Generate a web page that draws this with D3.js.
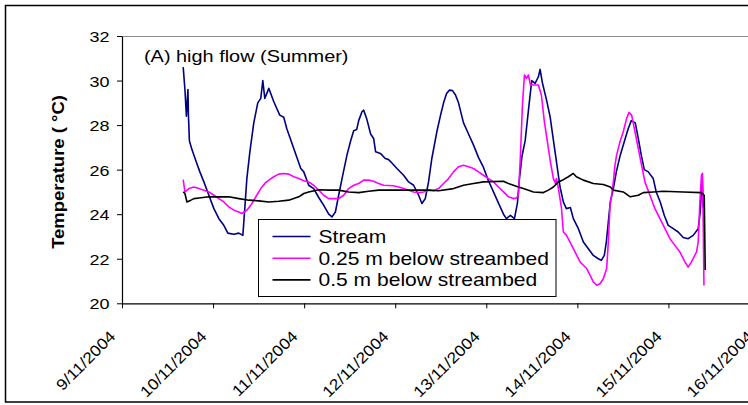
<!DOCTYPE html>
<html>
<head>
<meta charset="utf-8">
<script src="https://cdn.jsdelivr.net/npm/d3@7"></script>
<style>
  body { margin: 0; background: #fff; }
  text { font-family: "Liberation Sans", Arial, sans-serif; fill: #000; }
</style>
</head>
<body>
<div id="chart"></div>
<script>
var width = 748;
var height = 405;

// days after 9/11/2004 00:00, temperature (°C)
var stream = [[0.672,30.6],[0.691,29.6],[0.707,28.4],[0.724,29.6],[0.729,28.5],[0.740,27.3],[0.768,26.9],[0.811,26.4],[0.855,25.9],[0.899,25.45],[0.954,24.85],[1.009,24.25],[1.064,23.8],[1.118,23.5],[1.162,23.15],[1.228,23.1],[1.283,23.15],[1.327,23.05],[1.349,24.3],[1.371,25.6],[1.404,26.8],[1.447,28.1],[1.491,29.0],[1.524,29.2],[1.546,30.0],[1.568,29.2],[1.612,29.65],[1.667,29.05],[1.732,28.45],[1.776,28.35],[1.809,27.85],[1.886,26.95],[1.963,26.05],[1.996,25.9],[2.050,25.3],[2.105,25.15],[2.160,24.75],[2.215,24.4],[2.270,24.0],[2.306,23.88],[2.343,24.1],[2.379,24.85],[2.416,25.6],[2.470,26.65],[2.511,27.3],[2.544,27.75],[2.577,27.8],[2.599,28.2],[2.635,28.6],[2.654,28.67],[2.686,28.3],[2.730,27.6],[2.763,27.4],[2.785,26.8],[2.837,26.73],[2.891,26.5],[2.928,26.45],[2.964,26.3],[3.019,26.05],[3.092,25.75],[3.147,25.45],[3.202,25.3],[3.257,24.85],[3.293,24.48],[3.330,24.7],[3.366,25.45],[3.402,26.5],[3.457,27.7],[3.498,28.45],[3.531,29.0],[3.564,29.42],[3.596,29.57],[3.629,29.55],[3.662,29.35],[3.695,29.0],[3.750,28.1],[3.805,27.6],[3.860,27.1],[3.914,26.55],[3.969,26.1],[4.024,25.5],[4.079,25.0],[4.134,24.5],[4.189,24.0],[4.221,23.8],[4.265,23.95],[4.309,23.8],[4.342,24.5],[4.364,25.6],[4.392,26.6],[4.427,27.3],[4.463,28.67],[4.499,30.0],[4.536,29.87],[4.572,30.17],[4.591,30.5],[4.616,29.9],[4.663,29.1],[4.701,28.37],[4.737,27.33],[4.773,26.28],[4.810,25.22],[4.846,24.55],[4.879,24.25],[4.923,24.3],[4.956,23.8],[5.011,23.35],[5.066,22.75],[5.121,22.45],[5.175,22.15],[5.230,22.0],[5.263,21.93],[5.296,22.15],[5.318,22.75],[5.340,23.65],[5.362,24.55],[5.395,25.15],[5.428,25.9],[5.471,26.65],[5.515,27.25],[5.559,27.85],[5.592,28.2],[5.636,28.1],[5.669,27.4],[5.702,26.65],[5.735,26.0],[5.779,25.9],[5.833,25.6],[5.866,25.0],[5.910,24.55],[5.954,23.95],[5.998,23.5],[6.053,23.35],[6.107,23.2],[6.162,22.95],[6.217,22.9],[6.272,23.05],[6.327,23.35],[6.349,24.1],[6.371,25.6],[6.382,24.3]];

var depth025 = [[0.672,25.55],[0.691,25.0],[0.735,25.15],[0.789,25.22],[0.844,25.15],[0.899,25.08],[0.954,25.0],[1.009,24.85],[1.064,24.7],[1.118,24.55],[1.173,24.33],[1.228,24.18],[1.283,24.1],[1.316,24.03],[1.371,24.18],[1.414,24.4],[1.480,24.85],[1.524,25.15],[1.568,25.38],[1.612,25.53],[1.667,25.68],[1.721,25.8],[1.776,25.83],[1.831,25.8],[1.886,25.68],[1.941,25.6],[1.996,25.5],[2.050,25.45],[2.105,25.3],[2.160,25.08],[2.215,24.85],[2.270,24.7],[2.379,24.7],[2.434,24.85],[2.489,25.15],[2.544,25.3],[2.599,25.38],[2.654,25.53],[2.708,25.53],[2.763,25.48],[2.818,25.38],[2.873,25.3],[2.982,25.28],[3.037,25.22],[3.092,25.15],[3.147,25.08],[3.202,25.0],[3.257,24.97],[3.311,25.0],[3.366,25.08],[3.421,25.05],[3.476,25.15],[3.531,25.38],[3.586,25.6],[3.640,25.9],[3.695,26.13],[3.750,26.2],[3.805,26.13],[3.860,26.05],[3.914,25.9],[3.969,25.75],[4.024,25.6],[4.079,25.45],[4.134,25.22],[4.189,25.0],[4.243,24.78],[4.298,24.7],[4.331,24.73],[4.353,24.85],[4.375,26.65],[4.397,28.9],[4.419,30.25],[4.441,30.1],[4.463,30.25],[4.485,29.8],[4.572,29.8],[4.605,29.35],[4.638,28.15],[4.671,27.25],[4.704,26.35],[4.737,25.6],[4.759,25.38],[4.770,25.6],[4.792,25.15],[4.825,24.3],[4.846,23.2],[4.879,23.06],[4.920,22.75],[4.956,22.45],[4.993,22.15],[5.030,21.86],[5.066,21.71],[5.102,21.56],[5.139,21.26],[5.175,20.96],[5.212,20.81],[5.249,20.88],[5.285,21.1],[5.322,21.56],[5.340,22.75],[5.359,24.4],[5.376,24.85],[5.395,25.45],[5.413,26.2],[5.431,26.65],[5.468,27.25],[5.504,27.7],[5.541,28.3],[5.567,28.57],[5.596,28.45],[5.633,27.7],[5.669,26.95],[5.705,26.2],[5.742,25.45],[5.797,24.85],[5.852,24.25],[5.907,23.8],[5.962,23.35],[6.017,22.9],[6.071,22.6],[6.126,22.3],[6.181,21.86],[6.217,21.63],[6.253,21.86],[6.308,22.3],[6.327,22.75],[6.345,24.55],[6.363,25.75],[6.374,25.83],[6.382,23.65],[6.390,20.8]];

var depth05 = [[0.672,25.0],[0.691,24.93],[0.713,24.55],[0.757,24.63],[0.789,24.7],[0.844,24.73],[0.954,24.78],[1.173,24.78],[1.283,24.7],[1.393,24.63],[1.502,24.6],[1.612,24.55],[1.721,24.58],[1.831,24.63],[1.941,24.78],[1.996,24.93],[2.050,25.0],[2.160,25.1],[2.270,25.08],[2.379,25.08],[2.489,25.0],[2.599,24.97],[2.708,25.03],[2.818,25.08],[3.366,25.08],[3.476,25.05],[3.640,25.15],[3.750,25.3],[3.860,25.38],[3.969,25.45],[4.189,25.48],[4.243,25.38],[4.298,25.3],[4.353,25.22],[4.408,25.15],[4.463,25.08],[4.518,25.0],[4.627,24.97],[4.682,25.08],[4.737,25.22],[4.792,25.45],[4.846,25.55],[4.901,25.68],[4.956,25.83],[4.989,25.68],[5.066,25.53],[5.175,25.38],[5.285,25.33],[5.362,25.22],[5.395,25.08],[5.504,25.0],[5.581,24.78],[5.669,24.85],[5.724,24.97],[5.833,25.0],[5.943,25.03],[6.162,25.0],[6.360,24.97],[6.393,24.85],[6.404,21.5]];

var seriesNames = ["Stream", "0.25 m below streambed", "0.5 m below streambed"];
var seriesColors = ["#000080", "#ff00ff", "#000000"];
var yTicks = [20, 22, 24, 26, 28, 30, 32];
var titleText = "(A) high flow (Summer)";
var yLabel = "Temperature ( \u00b0C)";

var start = new Date(2004, 10, 9);
function toDate(d) { return new Date(start.getTime() + d * 864e5); }

// glyphs in the picture are wider than Liberation Sans
var stretch = 1.17;

var plot = { left: 122, top: 36, right: 759.5, bottom: 303.3 };

var svg = d3.select('#chart').append('svg')
    .attr('width', width)
    .attr('height', height);

var x = d3.scaleTime()
    .domain([start, new Date(2004, 10, 16)])
    .range([plot.left, plot.right]);
var y = d3.scaleLinear()
    .domain([20, 32])
    .range([plot.bottom, plot.top]);

// outer frame
svg.append('rect')
    .attr('x', 5.5).attr('y', 5.5)
    .attr('width', 800).attr('height', 396.5)
    .attr('fill', 'none')
    .attr('stroke', '#000')
    .attr('stroke-width', 1.5);

// plot area top border (grey)
svg.append('line')
    .attr('x1', plot.left).attr('x2', plot.right)
    .attr('y1', plot.top + 0.5).attr('y2', plot.top + 0.5)
    .attr('stroke', '#8c8c8c')
    .attr('stroke-width', 1.2);

// series
var line = d3.line()
    .x(d => x(toDate(d[0])))
    .y(d => y(d[1]));

[stream, depth025, depth05].forEach((s, i) => {
  svg.append('path')
      .datum(s)
      .attr('fill', 'none')
      .attr('stroke', seriesColors[i])
      .attr('stroke-width', 1.6)
      .attr('stroke-linejoin', 'round')
      .attr('d', line);
});

// y axis
var yAxis = svg.append('g')
    .attr('transform', `translate(${plot.left},0)`)
    .call(d3.axisLeft(y).tickValues(yTicks).tickSize(5).tickSizeOuter(0));
yAxis.select('.domain').attr('stroke', '#000').attr('stroke-width', 1.2);
yAxis.selectAll('.tick line').attr('stroke', '#000');
yAxis.selectAll('.tick text')
    .attr('x', null)
    .attr('dy', '0.36em')
    .attr('transform', `translate(-12.5,0) scale(1.16,1)`)
    .style('font-size', '15.5px')
    .style('font-family', '"Liberation Sans", Arial, sans-serif')
    .attr('fill', '#000');

// x axis
var dayTicks = d3.timeDay.range(start, new Date(2004, 10, 17));
var xAxis = svg.append('g')
    .attr('transform', `translate(0,${plot.bottom})`)
    .call(d3.axisBottom(x).tickValues(dayTicks).tickSize(5).tickSizeOuter(0)
      .tickFormat(d3.timeFormat('%-d/%m/%Y')));
xAxis.select('.domain').attr('stroke', '#000').attr('stroke-width', 1.2);
xAxis.selectAll('.tick line').attr('stroke', '#000');
xAxis.selectAll('.tick text')
    .attr('y', null).attr('dy', null)
    .attr('text-anchor', 'end')
    .attr('transform', `translate(-6,34) rotate(-45) scale(1.13,1)`)
    .style('font-size', '15.5px')
    .style('font-family', '"Liberation Sans", Arial, sans-serif')
    .attr('fill', '#000');

// y axis title
svg.append('text')
    .attr('transform', `translate(64,172) rotate(-90) scale(1.12,1)`)
    .attr('text-anchor', 'middle')
    .style('font-size', '16.5px')
    .style('font-weight', 'bold')
    .text(yLabel);

// panel title
svg.append('text')
    .attr('transform', `translate(144,62) scale(${stretch},1)`)
    .style('font-size', '17px')
    .text(titleText);

// legend
var legend = svg.append('g').attr('transform', 'translate(258.5,219.5)');
legend.append('rect')
    .attr('width', 297.5).attr('height', 77)
    .attr('fill', '#fff')
    .attr('stroke', '#000')
    .attr('stroke-width', 1);
seriesNames.forEach((name, i) => {
  var ly = 17 + i * 21.7;
  legend.append('line')
      .attr('x1', 14).attr('x2', 52)
      .attr('y1', ly).attr('y2', ly)
      .attr('stroke', seriesColors[i])
      .attr('stroke-width', 1.6);
  legend.append('text')
      .attr('transform', `translate(60,${ly}) scale(${stretch},1)`)
      .attr('dy', '0.36em')
      .style('font-size', '18px')
      .text(name);
});
</script>
</body>
</html>
